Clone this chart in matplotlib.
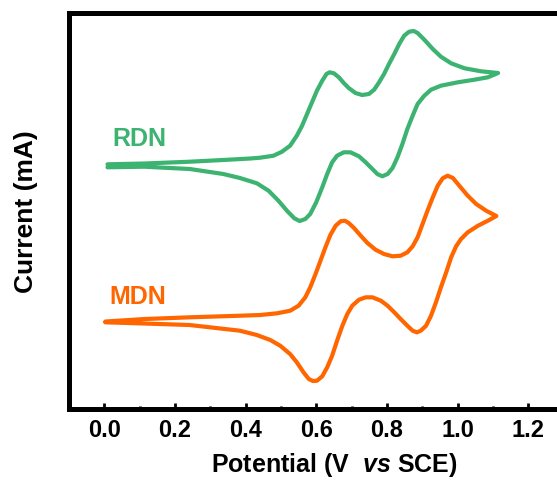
import matplotlib
matplotlib.use("Agg")
import matplotlib.pyplot as plt
from matplotlib.ticker import MultipleLocator, FixedLocator

plt.rcParams['font.family'] = ['Liberation Sans', 'DejaVu Sans']
plt.rcParams['font.weight'] = 'bold'
plt.rcParams['mathtext.fontset'] = 'custom'
plt.rcParams['mathtext.rm'] = 'Liberation Sans:bold'
plt.rcParams['mathtext.bfit'] = 'Liberation Sans:italic:bold'
plt.rcParams['mathtext.it'] = 'Liberation Sans:italic:bold'

# RDN cyclic voltammogram: forward (oxidation) scan, then reverse scan
rdn_v = [0.009, 0.114, 0.242, 0.336, 0.413, 0.441, 0.479, 0.503, 0.526, 0.545, 0.560,
         0.574, 0.588, 0.602, 0.617, 0.629, 0.638, 0.650, 0.664, 0.678, 0.692, 0.711,
         0.730, 0.749, 0.764, 0.778, 0.792, 0.806, 0.821, 0.835, 0.849, 0.863, 0.876,
         0.887, 0.906, 0.930, 0.953, 0.982, 1.020, 1.067, 1.115,
         1.086, 1.048, 1.001, 0.953, 0.925, 0.906, 0.887, 0.873, 0.858, 0.844, 0.830,
         0.816, 0.802, 0.787, 0.773, 0.759, 0.740, 0.721, 0.697, 0.678, 0.659, 0.645,
         0.631, 0.617, 0.600, 0.583, 0.569, 0.553, 0.538, 0.517, 0.493, 0.465, 0.432,
         0.384, 0.337, 0.242, 0.114, 0.009]
rdn_i = [2.442, 2.450, 2.468, 2.485, 2.500, 2.508, 2.528, 2.568, 2.628, 2.728, 2.828,
         2.945, 3.062, 3.178, 3.278, 3.345, 3.362, 3.352, 3.312, 3.255, 3.205, 3.155,
         3.135, 3.145, 3.188, 3.262, 3.345, 3.445, 3.545, 3.645, 3.728, 3.768, 3.775,
         3.755, 3.688, 3.595, 3.518, 3.452, 3.402, 3.372, 3.355,
         3.312, 3.288, 3.262, 3.228, 3.188, 3.128, 3.045, 2.928, 2.795, 2.645, 2.512,
         2.405, 2.345, 2.322, 2.345, 2.395, 2.462, 2.522, 2.562, 2.562, 2.528, 2.462,
         2.345, 2.212, 2.062, 1.945, 1.895, 1.875, 1.902, 1.978, 2.078, 2.178, 2.252,
         2.305, 2.345, 2.395, 2.418, 2.412]

# MDN cyclic voltammogram
mdn_v = [0.003, 0.114, 0.242, 0.384, 0.441, 0.489, 0.526, 0.550, 0.569, 0.583, 0.598,
         0.612, 0.626, 0.640, 0.655, 0.669, 0.681, 0.692, 0.707, 0.726, 0.745, 0.768,
         0.792, 0.816, 0.839, 0.858, 0.873, 0.887, 0.901, 0.915, 0.930, 0.944, 0.958,
         0.972, 0.987, 1.005, 1.029, 1.053, 1.081, 1.110,
         1.086, 1.058, 1.029, 1.010, 0.996, 0.982, 0.968, 0.953, 0.939, 0.925, 0.911,
         0.896, 0.885, 0.873, 0.858, 0.839, 0.821, 0.802, 0.783, 0.759, 0.740, 0.721,
         0.702, 0.688, 0.674, 0.659, 0.645, 0.631, 0.617, 0.602, 0.591, 0.579, 0.564,
         0.545, 0.526, 0.498, 0.470, 0.432, 0.384, 0.242, 0.114, 0.003]
mdn_i = [0.870, 0.895, 0.912, 0.928, 0.935, 0.952, 0.978, 1.028, 1.112, 1.212, 1.345,
         1.478, 1.612, 1.735, 1.828, 1.872, 1.878, 1.855, 1.805, 1.728, 1.655, 1.588,
         1.545, 1.522, 1.528, 1.562, 1.622, 1.712, 1.845, 1.978, 2.112, 2.228, 2.302,
         2.328, 2.305, 2.228, 2.128, 2.045, 1.978, 1.925,
         1.878, 1.828, 1.762, 1.695, 1.622, 1.512, 1.362, 1.212, 1.062, 0.928, 0.828,
         0.778, 0.762, 0.778, 0.828, 0.895, 0.962, 1.028, 1.078, 1.112, 1.112, 1.088,
         1.028, 0.945, 0.828, 0.678, 0.528, 0.412, 0.322, 0.278, 0.275, 0.295, 0.362,
         0.462, 0.545, 0.628, 0.685, 0.735, 0.778, 0.835, 0.850, 0.862]

green = '#3cb371'
orange = '#ff6600'

fig = plt.figure(figsize=(5.57, 4.81), dpi=100)
ax = fig.add_axes([0.1239, 0.1486, 1.075 - 0.1239, 0.9709 - 0.1486])

ax.plot(rdn_v, rdn_i, color=green, lw=3.0, solid_joinstyle='round', solid_capstyle='round')
ax.plot(mdn_v, mdn_i, color=orange, lw=3.0, solid_joinstyle='round', solid_capstyle='round')

ax.text(0.10, 2.705, 'RDN', color=green, fontsize=18, fontweight='bold', ha='center', va='center')
ax.text(0.094, 1.125, 'MDN', color=orange, fontsize=18, fontweight='bold', ha='center', va='center')

ax.set_xlim(-0.1, 1.4)
ax.set_ylim(0, 3.955)

ax.xaxis.set_major_locator(FixedLocator([0.0, 0.2, 0.4, 0.6, 0.8, 1.0, 1.2]))
ax.xaxis.set_minor_locator(MultipleLocator(0.1))
ax.tick_params(axis='x', which='major', direction='in', length=4, width=2, labelsize=17, pad=7)
ax.tick_params(axis='x', which='minor', direction='in', length=2, width=2)
ax.set_yticks([])
for lab in ax.get_xticklabels():
    lab.set_fontweight('bold')

for s in ax.spines.values():
    s.set_linewidth(3.6)

ax.set_xlabel(r'Potential (V  $\mathbfit{vs}$ SCE)', fontsize=18, fontweight='bold', labelpad=6)
ax.set_ylabel('Current (mA)', fontsize=19, fontweight='bold', labelpad=22)

fig.savefig('out.png', dpi=100)
